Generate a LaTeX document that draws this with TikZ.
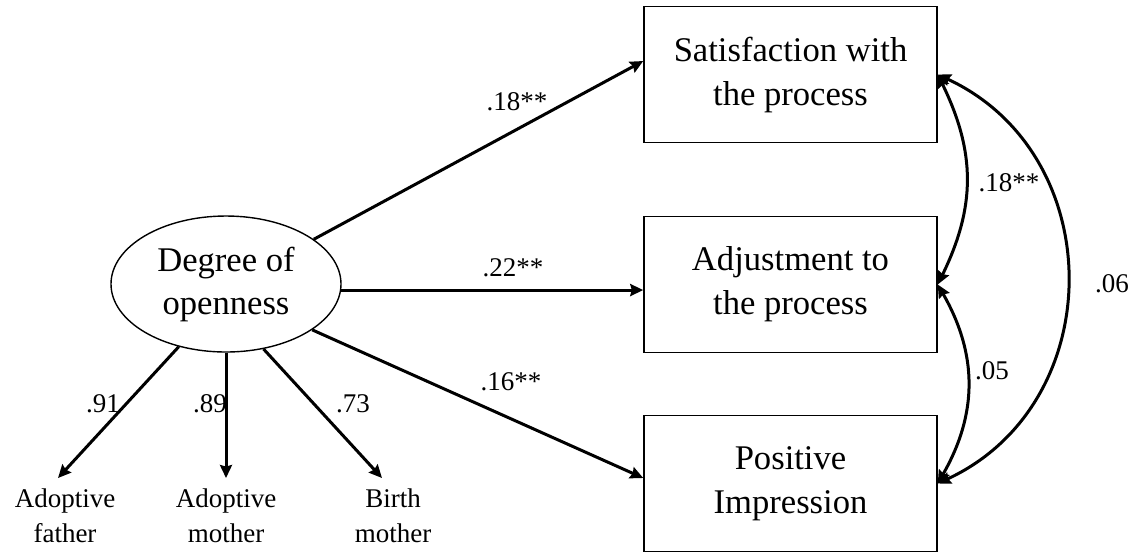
\documentclass[tikz,border=0pt]{standalone}
\usepackage{fontspec}
\setmainfont{Liberation Serif}
\usetikzlibrary{shapes.geometric,arrows.meta,calc}
\begin{document}
\begin{tikzpicture}[x=0.5pt,y=-0.5pt,
  box/.style={draw, line width=0.75pt, minimum width=146.5pt, minimum height=68pt, inner sep=0pt, align=center, font=\fontsize{17.3}{22}\selectfont},
  lat/.style={ellipse, draw, line width=0.7pt, minimum width=115pt, minimum height=68pt, inner sep=0pt, align=center, font=\fontsize{17.3}{21.5}\selectfont},
  obs/.style={align=center, inner sep=0pt, font=\fontsize{13.5}{17.5}\selectfont},
  lbl/.style={inner sep=0pt, font=\fontsize{13.5}{16}\selectfont},
  tip/.tip={Stealth[length=6.5pt,width=6pt,inset=0.8pt]},
  arr/.style={line width=1.5pt, -tip},
  cov/.style={line width=1.5pt, tip-tip}
]
\useasboundingbox (0,0) rectangle (1134,554);

% latent variable
\node[lat] (e) at (226,284) {Degree of\\openness};

% outcome boxes
\node[box] (s) at (790.5,74.5) {Satisfaction with\\the process};
\node[box] (a) at (790.5,284.5) {Adjustment to\\the process};
\node[box] (p) at (790.5,483.5) {Positive\\Impression};

% indicators
\node[obs] (af) at (65,516) {Adoptive\\father};
\node[obs] (am) at (226,516) {Adoptive\\mother};
\node[obs] (bm) at (393,516) {Birth\\mother};

\coordinate (t1) at (58,478);
\coordinate (t2) at (226,478);
\coordinate (t3) at (382,478);

\draw[arr] (e.-127) -- (t1);
\draw[arr] (e.south) -- (t2);
\draw[arr] (e.-60) -- (t3);

\node[lbl] (l91) at (103,404) {.91};
\node[lbl] (l89) at (210,404) {.89};
\node[lbl] (l73) at (353,404) {.73};

% structural paths
\coordinate (sin) at ($(s.west)+(0,-13.5)$);
\coordinate (pin) at ($(p.west)+(0,-5.5)$);
\draw[arr] (e.27) -- (sin);
\draw[arr] (e.-3) -- (e.-3 -| a.west);
\draw[arr] (e.-28) -- (pin);

\node[lbl] (l18) at (517,102) {.18**};
\node[lbl] (l22) at (513,268) {.22**};
\node[lbl] (l16) at (511,382) {.16**};

% covariances
\draw[cov] (s.east) .. controls +(38,78) and +(38,-78) .. (a.east);
\draw[cov] (a.east) .. controls +(40,70) and +(40,-70) .. (p.east);
\draw[cov] (s.east) .. controls +(172,80) and +(172,-80) .. (p.east);

\node[lbl] (c18) at (1009,183) {.18**};
\node[lbl] (c05) at (992,371) {.05};
\node[lbl] (c06) at (1112,284) {.06};
\end{tikzpicture}
\end{document}
